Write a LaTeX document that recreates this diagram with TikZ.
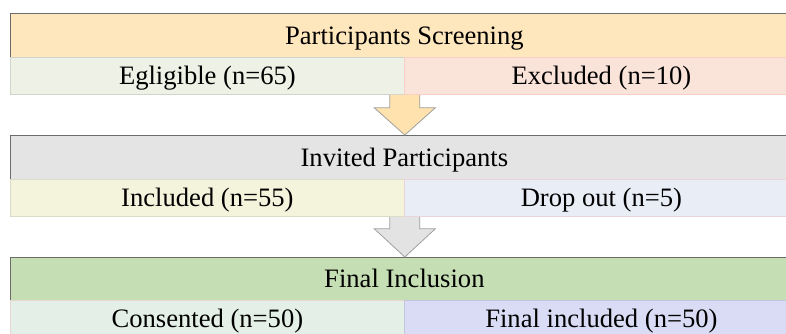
\documentclass[tikz,border=0pt]{standalone}
\usepackage{fontspec}
\setmainfont{Liberation Serif}
\usetikzlibrary{calc}
\definecolor{hOne}{HTML}{FFE7BD}
\definecolor{hTwo}{HTML}{E4E4E4}
\definecolor{hThree}{HTML}{C5DEB3}
\definecolor{cEl}{HTML}{EEF1E6}
\definecolor{cEx}{HTML}{FAE4DA}
\definecolor{cIn}{HTML}{F4F3DB}
\definecolor{cDr}{HTML}{E9EDF6}
\definecolor{cCo}{HTML}{E4EFE7}
\definecolor{cFi}{HTML}{D9DCF4}
\definecolor{arOne}{HTML}{FFE2AE}
\definecolor{arTwo}{HTML}{E3E3E3}
\begin{document}
\begin{tikzpicture}[x=1pt,y=-1pt,
  every node/.style={font=\fontsize{26.6}{31}\selectfont},
  cellbox/.style={anchor=north west, inner sep=0pt, text height=17.5pt, text depth=0pt, line width=0.8pt},
  headbox/.style={cellbox, minimum width=788pt, minimum height=44pt, draw=#1},
  subleft/.style={cellbox, minimum width=394pt, minimum height=37pt, draw=#1},
  subright/.style={cellbox, minimum width=394pt, minimum height=37pt, draw=#1},
  blockarrow/.style={draw=#1, line width=0.8pt, line join=miter}
]
\useasboundingbox (0,0) rectangle (786,333);
% row 1
\node[headbox=gray!85!black, fill=hOne] (h1) at (10,13) {Participants Screening};
\node[subleft=cEl!80!black!60!cEl, fill=cEl] (el) at (10,57) {Egligible (n=65)};
\node[subright=cEx!85!red!60!cEx, fill=cEx] (ex) at (404,57) {Excluded (n=10)};
% row 2
\node[headbox=gray!85!black, fill=hTwo] (h2) at (10,135) {Invited Participants};
\node[subleft=cIn!80!black!50!cIn, fill=cIn] (in) at (10,179) {Included (n=55)};
\node[subright=cDr!80!red!50!cDr, fill=cDr] (dr) at (404,179) {Drop out (n=5)};
% row 3
\node[headbox=gray!85!black, fill=hThree, minimum height=43pt] (h3) at (10,257) {Final Inclusion};
\node[subleft=cCo!80!red!50!cCo, fill=cCo] (co) at (10,300) {Consented (n=50)};
\node[subright=cFi!80!black!50!cFi, fill=cFi] (fi) at (404,300) {Final included (n=50)};
% arrows
\coordinate (a1s) at (el.south east);
\coordinate (a1t) at (el.south east |- h2.north);
\filldraw[blockarrow=gray!75, fill=arOne]
  ($(a1s)+(-15,0)$) -- ($(a1s)+(-15,13)$) -- ($(a1s)+(-30.5,13)$) -- (a1t)
  -- ($(a1s)+(30.5,13)$) -- ($(a1s)+(15,13)$) -- ($(a1s)+(15,0)$);
\coordinate (a2s) at (in.south east);
\coordinate (a2t) at (in.south east |- h3.north);
\filldraw[blockarrow=gray!75, fill=arTwo]
  ($(a2s)+(-15,0)$) -- ($(a2s)+(-15,12)$) -- ($(a2s)+(-30.5,12)$) -- (a2t)
  -- ($(a2s)+(30.5,12)$) -- ($(a2s)+(15,12)$) -- ($(a2s)+(15,0)$);
\end{tikzpicture}
\end{document}
